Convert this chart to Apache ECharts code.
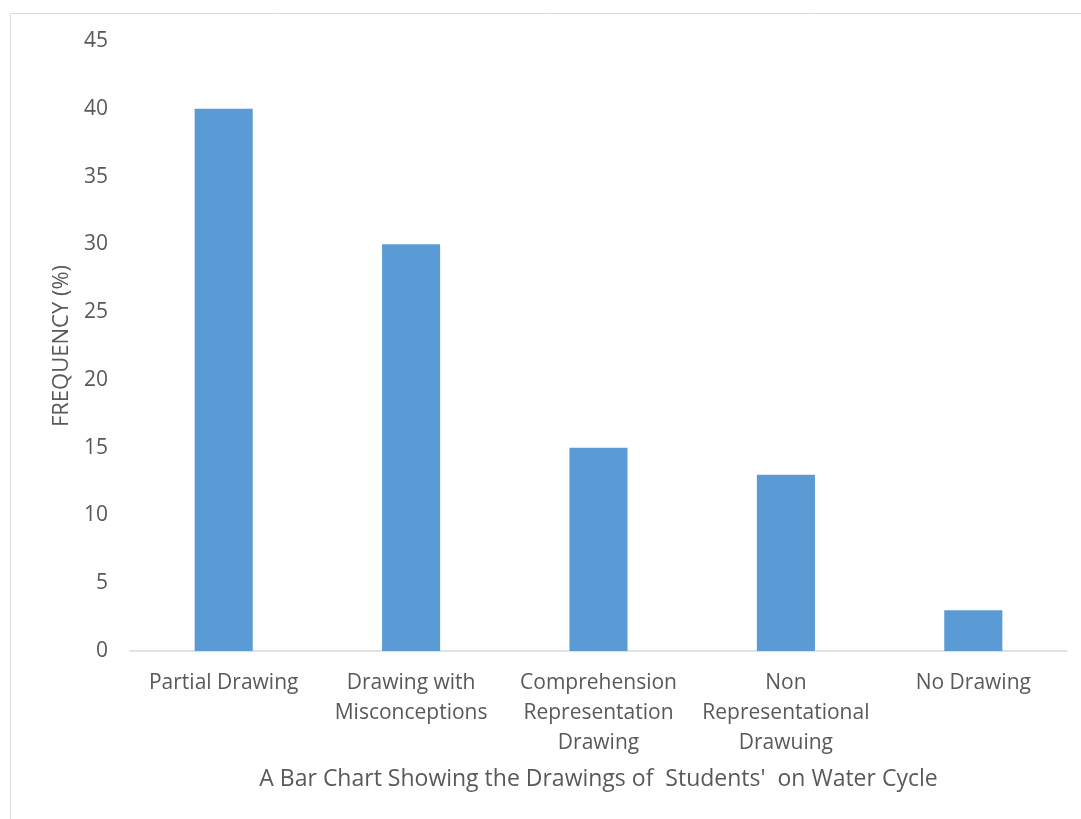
<!DOCTYPE html>
<html>
<head>
<meta charset="utf-8">
<script src="https://cdn.jsdelivr.net/npm/echarts@6/dist/echarts.min.js"></script>
<style>
  html, body { margin: 0; padding: 0; background: #fff; }
  #chart { width: 1081px; height: 819px; }
</style>
</head>
<body>
<div id="chart"></div>
<script>
// categories and values
var categories = [
  'Partial Drawing',
  'Drawing with\nMisconceptions',
  'Comprehension\nRepresentation\nDrawing',
  'Non\nRepresentational\nDrawuing',
  'No Drawing'
];
var frequency = [40, 30, 15, 13, 3];

var textColor = '#595959';
var font = 'Open Sans';

var chart = echarts.init(document.getElementById('chart'));
chart.setOption({
  animation: false,
  textStyle: { fontFamily: font },
  graphic: [{
    type: 'rect',
    shape: { x: 10.5, y: 13.5, width: 1080, height: 820 },
    style: { fill: 'none', stroke: '#d9d9d9', lineWidth: 1 },
    silent: true
  }],
  grid: {
    left: 130,
    right: 14,
    top: 41,
    bottom: 168
  },
  xAxis: {
    type: 'category',
    data: categories,
    name: "A Bar Chart Showing the Drawings of  Students'  on Water Cycle",
    nameLocation: 'middle',
    nameGap: 117,
    nameTextStyle: { color: textColor, fontSize: 23, fontFamily: font },
    axisTick: { show: false },
    axisLine: { lineStyle: { color: '#d9d9d9', width: 1.5 } },
    axisLabel: {
      color: textColor,
      fontSize: 21,
      fontFamily: font,
      lineHeight: 30,
      margin: 17,
      interval: 0
    }
  },
  yAxis: {
    type: 'value',
    min: 0,
    max: 45,
    interval: 5,
    name: 'FREQUENCY (%)',
    nameLocation: 'middle',
    nameGap: 56,
    nameTextStyle: { color: textColor, fontSize: 22, fontFamily: font },
    axisLine: { show: false },
    axisTick: { show: false },
    splitLine: { show: false },
    axisLabel: { color: textColor, fontSize: 21, fontFamily: font, margin: 22 }
  },
  series: [{
    type: 'bar',
    data: frequency,
    barWidth: '31%',
    itemStyle: { color: '#5b9bd5' }
  }]
});
</script>
</body>
</html>
